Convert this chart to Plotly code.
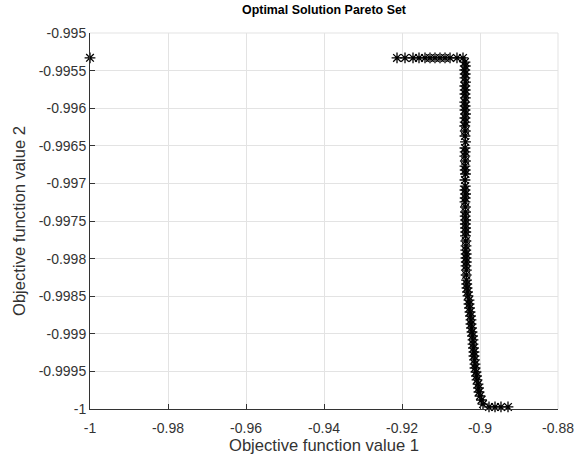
import plotly.graph_objects as go

# ---- data ----
lone_x = [-1.0]
lone_y = [-0.99533]

top_x = [-0.92128, -0.91923, -0.91718, -0.91564, -0.91410, -0.91282,
         -0.91154, -0.91026, -0.90897, -0.90769, -0.90590, -0.90436]
top_y = [-0.995332] * 12

col_x = [-0.90385, -0.90378, -0.90390, -0.90380, -0.90385, -0.90372,
         -0.90388, -0.90380, -0.90385, -0.90376, -0.90390, -0.90382,
         -0.90385, -0.90372, -0.90385, -0.90380, -0.90390, -0.90378,
         -0.90385, -0.90372, -0.90385, -0.90380, -0.90388, -0.90376,
         -0.90385, -0.90380, -0.90372, -0.90385, -0.90378, -0.90385,
         -0.90370, -0.90380, -0.90385, -0.90375, -0.90372, -0.90380,
         -0.90368, -0.90376, -0.90370, -0.90365, -0.90372, -0.90362,
         -0.90359, -0.90365, -0.90355, -0.90359, -0.90352, -0.90359,
         -0.90350, -0.90355, -0.90345, -0.90340, -0.90333, -0.90320,
         -0.90308, -0.90282, -0.90282, -0.90269, -0.90256, -0.90244,
         -0.90231, -0.90231, -0.90218, -0.90205, -0.90192, -0.90179,
         -0.90179, -0.90167, -0.90154, -0.90154, -0.90141, -0.90128,
         -0.90128, -0.90103, -0.90090, -0.90077, -0.90051, -0.90038,
         -0.90026, -0.90000, -0.89962, -0.89923]
col_y = [-0.995386, -0.995439, -0.995492, -0.995545, -0.995598, -0.995652,
         -0.995705, -0.995758, -0.995811, -0.995864, -0.995918, -0.995971,
         -0.996024, -0.996077, -0.996130, -0.996184, -0.996237, -0.996303,
         -0.996370, -0.996449, -0.996529, -0.996582, -0.996636, -0.996702,
         -0.996769, -0.996822, -0.996875, -0.996955, -0.997035, -0.997088,
         -0.997141, -0.997194, -0.997247, -0.997314, -0.997380, -0.997434,
         -0.997487, -0.997540, -0.997593, -0.997646, -0.997699, -0.997766,
         -0.997832, -0.997886, -0.997939, -0.997992, -0.998045, -0.998098,
         -0.998152, -0.998218, -0.998285, -0.998338, -0.998391, -0.998444,
         -0.998497, -0.998551, -0.998604, -0.998657, -0.998710, -0.998763,
         -0.998816, -0.998870, -0.998923, -0.998976, -0.999029, -0.999082,
         -0.999136, -0.999189, -0.999242, -0.999295, -0.999348, -0.999402,
         -0.999455, -0.999508, -0.999561, -0.999614, -0.999668, -0.999721,
         -0.999774, -0.999827, -0.999880, -0.999934, -0.999973]

bottom_x = [-0.89769, -0.89615, -0.89462, -0.89282]
bottom_y = [-0.999973] * 4

x_ticks = [-1.0, -0.98, -0.96, -0.94, -0.92, -0.90, -0.88]
x_tick_labels = ["-1", "-0.98", "-0.96", "-0.94", "-0.92", "-0.9", "-0.88"]
y_ticks = [-0.995, -0.9955, -0.996, -0.9965, -0.997, -0.9975, -0.998,
           -0.9985, -0.999, -0.9995, -1.0]
y_tick_labels = ["-0.995", "-0.9955", "-0.996", "-0.9965", "-0.997", "-0.9975",
                 "-0.998", "-0.9985", "-0.999", "-0.9995", "-1"]

xs = lone_x + top_x + col_x + bottom_x
ys = lone_y + top_y + col_y + bottom_y

FONT = "Liberation Sans, Arial, sans-serif"
AX = "#333333"
GRID = "#e3e3e3"

fig = go.Figure()
fig.add_trace(go.Scatter(
    x=xs, y=ys, mode="markers", cliponaxis=False,
    marker=dict(symbol="asterisk-open", size=9, color="black",
                line=dict(color="black", width=1.3)),
    showlegend=False,
))

fig.update_layout(
    width=582, height=455,
    margin=dict(l=90, r=24, t=33, b=46),
    paper_bgcolor="white", plot_bgcolor="white",
    font=dict(family=FONT, color=AX, size=14),
    title=dict(text="<b>Optimal Solution Pareto Set</b>", x=324 / 582, xanchor="center",
               y=1 - 10 / 455, yanchor="middle",
               font=dict(family=FONT, size=12.4, color="black")),
)
fig.update_xaxes(
    range=[-1.0, -0.88], tickvals=x_ticks, ticktext=x_tick_labels,
    showgrid=True, gridcolor=GRID, gridwidth=1, zeroline=False,
    showline=True, linecolor=AX, linewidth=1, mirror=False, automargin=False,
    ticks="inside", ticklen=5, tickcolor=AX, tickfont=dict(size=14, color=AX),
    ticklabelstandoff=6,
    title=dict(text="Objective function value 1", font=dict(size=16.6, color=AX), standoff=3),
)
fig.update_yaxes(
    range=[-1.0, -0.995], tickvals=y_ticks, ticktext=y_tick_labels,
    showgrid=True, gridcolor=GRID, gridwidth=1, zeroline=False,
    showline=True, linecolor=AX, linewidth=1, mirror=False, automargin=False,
    ticks="inside", ticklen=5, tickcolor=AX, tickfont=dict(size=14, color=AX),
    title=dict(text="Objective function value 2", font=dict(size=16.6, color=AX), standoff=8),
)
# light box on top and right (MATLAB style)
fig.add_shape(type="line", xref="paper", yref="paper", x0=0, x1=1, y0=1, y1=1,
              line=dict(color=GRID, width=1))
fig.add_shape(type="line", xref="paper", yref="paper", x0=1, x1=1, y0=0, y1=1,
              line=dict(color=GRID, width=1))

fig.write_html("out.html")
